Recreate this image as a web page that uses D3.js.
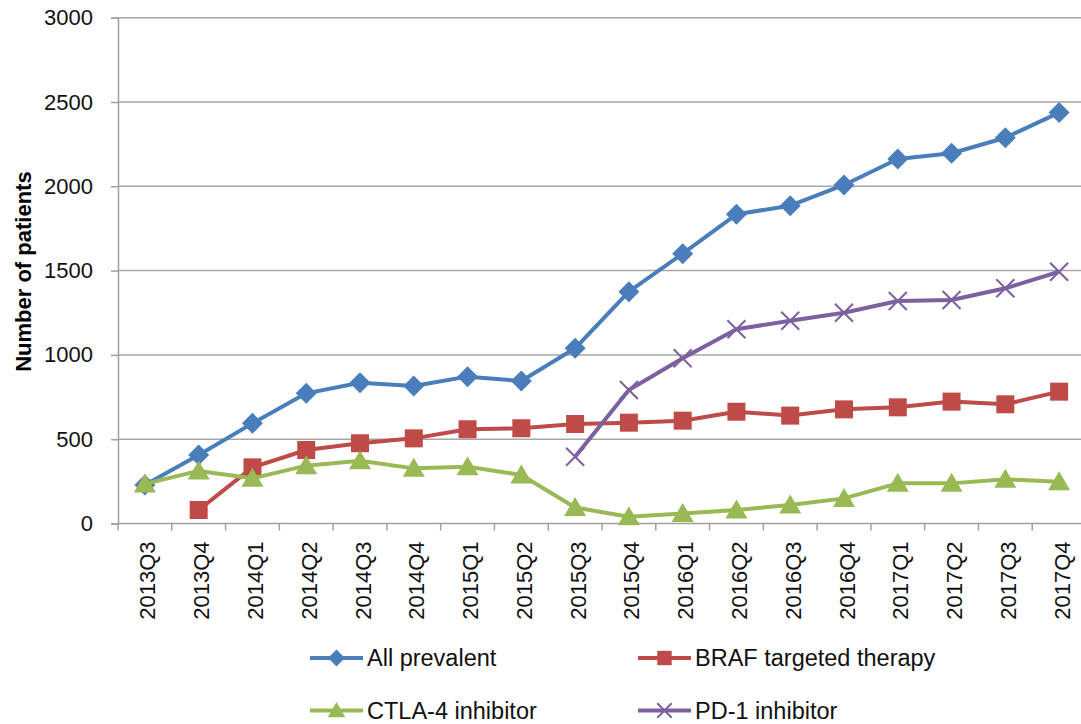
<!DOCTYPE html>
<html>
<head>
<meta charset="utf-8">
<script src="https://cdn.jsdelivr.net/npm/d3@7"></script>
<style>
  html, body { margin: 0; padding: 0; background: #fff; }
  svg { display: block; }
</style>
</head>
<body>
<svg id="chart" width="1081" height="724"></svg>
<script>
// Quarterly patient counts by treatment group
const quarters = ["2013Q3","2013Q4","2014Q1","2014Q2","2014Q3","2014Q4","2015Q1","2015Q2","2015Q3",
                  "2015Q4","2016Q1","2016Q2","2016Q3","2016Q4","2017Q1","2017Q2","2017Q3","2017Q4"];
const allPrevalent = [228, 406, 594, 772, 835, 815, 871, 845, 1039, 1375, 1600, 1834, 1885, 2008, 2162, 2196, 2288, 2437];
const brafTherapy  = [null, 80, 333, 436, 476, 505, 559, 565, 590, 598, 610, 663, 640, 677, 689, 723, 707, 782];
const ctla4        = [235, 312, 268, 343, 372, 327, 337, 288, 95, 40, 60, 80, 110, 149, 238, 238, 262, 248];
const pd1          = [null, null, null, null, null, null, null, null, 396, 792, 980, 1152, 1203, 1250, 1320, 1326, 1395, 1493];
const yTicks = [0, 500, 1000, 1500, 2000, 2500, 3000];

const series = [
  { name: "All prevalent",         values: allPrevalent, color: "#4a7ebb", marker: "diamond" },
  { name: "BRAF targeted therapy", values: brafTherapy,  color: "#be4b48", marker: "square" },
  { name: "CTLA-4 inhibitor",      values: ctla4,        color: "#98b954", marker: "triangle" },
  { name: "PD-1 inhibitor",        values: pd1,          color: "#7d60a0", marker: "cross" }
];

const FONT = "Liberation Sans, Arial, sans-serif";
const svg = d3.select("#chart");
const plotLeft = 118, plotRight = 1086, plotTop = 17.7, plotBottom = 523.5;

const x = d3.scaleBand().domain(quarters).range([plotLeft, plotRight]);
const y = d3.scaleLinear().domain([0, 3000]).range([plotBottom, plotTop]);
const cx = d => x(d) + x.bandwidth() / 2;

// Horizontal gridlines
svg.append("g").selectAll("line").data(yTicks.filter(t => t > 0)).join("line")
  .attr("x1", plotLeft).attr("x2", plotRight)
  .attr("y1", d => y(d)).attr("y2", d => y(d))
  .attr("stroke", "#a6a6a6").attr("stroke-width", 1.5);

// Y axis
const yAxis = svg.append("g").attr("transform", `translate(${plotLeft},0)`)
  .call(d3.axisLeft(y).tickValues(yTicks).tickSize(7).tickPadding(18).tickFormat(d3.format("d")));
yAxis.select(".domain").attr("stroke", "#a0a0a0").attr("stroke-width", 1.5);
yAxis.selectAll(".tick line").attr("stroke", "#a0a0a0").attr("stroke-width", 1.5);
yAxis.selectAll(".tick text").attr("font-family", FONT)
  .attr("font-size", 22).attr("fill", "#111");

// X axis with ticks at category boundaries
const xAxis = svg.append("g").attr("transform", `translate(0,${plotBottom})`);
xAxis.append("line").attr("x1", plotLeft).attr("x2", plotRight).attr("y1", 0).attr("y2", 0)
  .attr("stroke", "#a0a0a0").attr("stroke-width", 1.5);
xAxis.selectAll("line.tk").data(quarters.concat(["_end"])).join("line").attr("class", "tk")
  .attr("x1", (d, i) => plotLeft + i * x.bandwidth()).attr("x2", (d, i) => plotLeft + i * x.bandwidth())
  .attr("y1", 0).attr("y2", 7)
  .attr("stroke", "#a0a0a0").attr("stroke-width", 1.5);
xAxis.selectAll("text").data(quarters).join("text")
  .attr("transform", d => `translate(${cx(d) + 10.5},${18}) rotate(-90)`)
  .attr("text-anchor", "end")
  .attr("font-family", FONT)
  .attr("font-size", 22).attr("fill", "#111")
  .text(d => d);

// Y axis title
svg.append("text")
  .attr("transform", `translate(31,${(plotTop + plotBottom) / 2 + 1}) rotate(-90)`)
  .attr("text-anchor", "middle")
  .attr("font-family", FONT)
  .attr("font-size", 22).attr("font-weight", "bold").attr("fill", "#000")
  .text("Number of patients");

// Marker shapes
function markerPath(type, s) {
  switch (type) {
    case "diamond": return `M0,${-s}L${s},0L0,${s}L${-s},0Z`;
    case "square": return `M${-s},${-s}H${s}V${s}H${-s}Z`;
    case "triangle": return `M0,${-s * 1.05}L${s * 1.1},${s * 0.85}L${-s * 1.1},${s * 0.85}Z`;
    case "cross": return `M${-s},${-s}L${s},${s}M${-s},${s}L${s},${-s}`;
  }
}
const markerSize = { diamond: 10.5, square: 9, triangle: 10, cross: 9 };

function drawMarker(g, type, color, scale) {
  const p = g.append("path").attr("d", markerPath(type, markerSize[type] * scale));
  if (type === "cross") p.attr("fill", "none").attr("stroke", color).attr("stroke-width", 2);
  else p.attr("fill", color).attr("stroke", "none");
}

const line = d3.line()
  .defined(d => d.v != null)
  .x(d => cx(d.q)).y(d => y(d.v));

series.forEach(s => {
  const pts = quarters.map((q, i) => ({ q, v: s.values[i] }));
  const g = svg.append("g");
  g.append("path").datum(pts).attr("d", line)
    .attr("fill", "none").attr("stroke", s.color).attr("stroke-width", 4)
    .attr("stroke-linejoin", "round");
  pts.filter(d => d.v != null).forEach(d => {
    const m = g.append("g").attr("transform", `translate(${cx(d.q)},${y(d.v)})`);
    drawMarker(m, s.marker, s.color, 1);
  });
});

// Legend
const legendPos = [
  { x: 310, y: 658 }, { x: 638, y: 658 },
  { x: 310, y: 710.5 }, { x: 638, y: 710.5 }
];
series.forEach((s, i) => {
  const p = legendPos[i];
  const g = svg.append("g").attr("transform", `translate(${p.x},${p.y})`);
  g.append("line").attr("x1", 0).attr("x2", 53).attr("y1", 0).attr("y2", 0)
    .attr("stroke", s.color).attr("stroke-width", 4);
  const m = g.append("g").attr("transform", "translate(26.5,0)");
  drawMarker(m, s.marker, s.color, 0.8);
  g.append("text").attr("x", 57).attr("y", 8)
    .attr("font-family", FONT)
    .attr("font-size", 23.5).attr("fill", "#111")
    .text(s.name);
});
</script>
</body>
</html>
